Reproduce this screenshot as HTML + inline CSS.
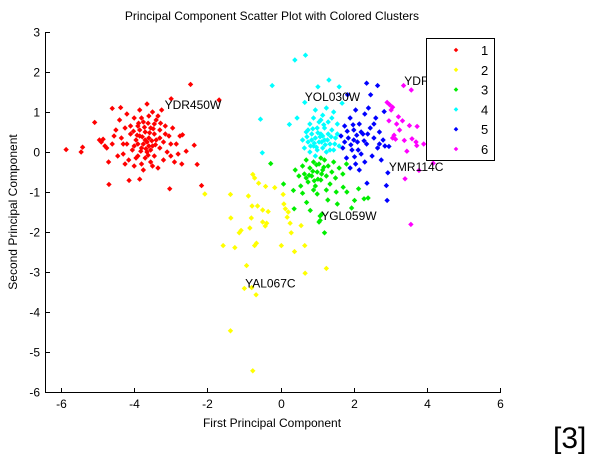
<!DOCTYPE html>
<html><head><meta charset="utf-8"><style>
body{margin:0;background:#fff;width:602px;height:462px;overflow:hidden}
svg text{font-family:"Liberation Sans",sans-serif}
</style></head><body>
<svg id="chart" width="602" height="462" xmlns="http://www.w3.org/2000/svg">
<text x="272" y="20" font-size="12" text-anchor="middle">Principal Component Scatter Plot with Colored Clusters</text>
<g id="axes"></g>
<g id="marks"></g>
<g id="labels"></g>
<text x="272" y="427" font-size="12" text-anchor="middle">First Principal Component</text>
<text transform="translate(17,212) rotate(-90)" font-size="12" text-anchor="middle">Second Principal Component</text>
<g id="legend"></g>
<text x="553" y="448" font-size="30">[3]</text>
</svg>
<script>
const xTicks=[-6,-4,-2,0,2,4,6];
const yTicks=[3,2,1,0,-1,-2,-3,-4,-5,-6];
const clusterNames=["1","2","3","4","5","6"];
const clusterColors=["#ff0000","#ffff00","#00ee00","#00ffff","#0000ff","#ff00ff"];
const c1=[[-5.86,0.06],[-5.41,0.12],[-5.45,0.0],[-5.08,0.74],[-4.69,-0.81],[-4.6,1.09],[-4.37,1.11],[-4.14,-0.71],[-3.85,-0.68],[-3.03,-0.92],[-2.46,1.69],[-2.36,0.17],[-2.28,-0.31],[-2.16,-0.84],[-1.68,1.3],[-2.99,1.33],[-2.68,0.43],[-2.58,0.02],[-4.9,0.25],[-4.95,0.3],[-4.8,0.15],[-4.85,0.32],[-4.7,-0.25],[-4.6,0.2],[-4.5,0.55],[-4.45,-0.1],[-4.4,0.8],[-4.35,0.35],[-4.3,-0.05],[-4.25,0.6],[-4.2,0.95],[-4.2,0.2],[-4.15,-0.2],[-4.1,0.45],[-4.05,0.05],[-4.0,0.85],[-4.0,-0.35],[-3.95,0.3],[-3.9,0.65],[-3.9,-0.1],[-3.85,1.05],[-3.85,0.4],[-3.8,0.1],[-3.8,-0.3],[-3.75,0.75],[-3.75,0.2],[-3.7,0.5],[-3.7,-0.15],[-3.65,1.2],[-3.65,0.0],[-3.6,0.35],[-3.6,0.9],[-3.55,-0.25],[-3.55,0.6],[-3.5,0.15],[-3.5,1.0],[-3.45,0.45],[-3.45,-0.1],[-3.4,0.3],[-3.4,0.8],[-3.35,-0.4],[-3.3,0.1],[-3.3,0.55],[-3.25,1.05],[-3.2,0.25],[-3.2,-0.2],[-3.15,0.65],[-3.1,0.0],[-3.05,0.4],[-3.0,-0.1],[-2.95,0.6],[-2.9,-0.25],[-2.85,0.2],[-2.8,-0.05],[-2.75,0.4],[-2.7,-0.3],[-4.75,0.1],[-4.55,0.4],[-4.0,0.15],[-3.7,0.3],[-3.85,0.55],[-3.95,-0.15],[-3.6,0.15],[-3.45,0.7],[-3.75,-0.45],[-4.25,-0.3],[-3.3,0.35],[-3.55,0.05],[-3.65,0.25],[-3.9,0.2],[-4.1,0.65],[-3.35,0.9],[-3.15,0.45],[-3.8,0.85],[-4.3,0.2],[-3.5,-0.35],[-3.0,0.2],[-3.72,0.62],[-3.58,0.48],[-3.68,0.08],[-3.52,0.28],[-3.78,0.38],[-3.62,-0.08],[-3.42,0.18],[-3.88,0.72],[-3.48,0.58],[-3.82,0.02],[-4.02,0.52],[-3.28,0.72],[-3.62,0.72],[-3.92,0.42]];
const c2=[[-2.07,-1.05],[-1.37,-1.06],[-1.36,-1.65],[-1.57,-2.34],[-1.25,-2.39],[-1.13,-2.02],[-1.08,-1.96],[-0.76,-0.56],[-0.71,-0.65],[-0.6,-0.78],[-0.41,-0.86],[-0.16,-0.89],[-0.88,-1.1],[-0.78,-1.35],[-0.8,-1.65],[-0.84,-1.9],[-0.71,-2.34],[-0.66,-2.28],[-0.63,-1.35],[-0.49,-1.45],[-0.34,-1.49],[-0.49,-1.75],[-0.42,-1.85],[-0.38,-1.78],[-0.93,-2.84],[-0.99,-3.41],[-0.79,-3.39],[-0.67,-3.57],[-1.37,-4.47],[-0.76,-5.47],[0.07,-1.06],[0.09,-1.3],[0.21,-1.5],[0.18,-1.63],[0.26,-1.78],[0.29,-2.02],[0.02,-2.34],[0.38,-2.49],[0.56,-1.84],[0.66,-2.34],[0.67,-3.03],[1.25,-2.91],[0.13,-1.42]];
const c3=[[-0.27,-0.29],[0.08,-0.8],[0.35,-0.96],[0.37,-1.42],[0.6,-1.03],[0.71,-1.26],[0.81,-1.46],[1.08,-1.71],[1.2,-2.02],[1.29,-1.2],[1.55,-1.3],[1.71,-0.88],[1.81,-1.0],[1.94,-1.4],[2.02,-1.21],[2.13,-0.92],[2.28,-1.17],[2.39,-1.15],[1.52,-1.0],[1.13,-1.55],[0.4,-0.45],[0.5,-0.6],[0.6,-0.35],[0.65,-0.55],[0.7,-0.2],[0.75,-0.75],[0.8,-0.4],[0.85,-0.6],[0.9,-0.25],[0.95,-0.85],[1.0,-0.5],[1.05,-0.3],[1.1,-0.7],[1.15,-0.45],[1.2,-0.2],[1.25,-0.6],[1.3,-0.35],[1.35,-0.8],[1.4,-0.5],[1.45,-0.25],[1.5,-0.65],[1.6,-0.4],[1.7,-0.55],[1.8,-0.3],[0.55,-0.85],[1.0,-1.05],[0.9,-0.95],[1.25,-0.95],[0.7,-0.65],[1.1,-0.15],[0.88,-0.48],[1.02,-0.68],[1.18,-0.38],[0.78,-0.58],[0.98,-0.32],[1.12,-0.55],[0.92,-0.72],[1.08,-1.6],[1.05,-1.75]];
const c4=[[0.68,2.42],[0.39,2.3],[-0.23,1.66],[-0.55,0.82],[-0.5,-0.02],[0.24,0.69],[0.45,0.85],[1.02,1.63],[1.32,1.8],[0.66,1.24],[1.6,1.63],[1.68,1.22],[0.6,0.3],[0.65,0.1],[0.7,0.5],[0.75,0.25],[0.8,0.7],[0.8,0.0],[0.85,0.45],[0.9,0.15],[0.9,0.85],[0.95,0.35],[1.0,0.6],[1.0,0.05],[1.05,0.25],[1.1,0.8],[1.1,0.45],[1.15,0.1],[1.2,0.6],[1.2,0.3],[1.25,0.0],[1.3,0.75],[1.3,0.45],[1.35,0.2],[1.4,0.55],[1.45,0.05],[1.5,0.35],[1.55,0.7],[1.6,0.15],[0.95,1.05],[1.25,1.1],[1.45,1.0],[0.85,0.3],[1.15,0.4],[1.05,0.75],[0.75,0.55],[1.35,0.05],[0.95,-0.1],[0.92,0.22],[1.08,0.38],[1.22,0.18],[1.02,0.48],[0.88,0.58],[1.18,0.68],[1.28,0.3],[0.98,0.12],[1.12,0.25],[0.82,0.15],[1.38,0.38],[1.48,0.2],[0.72,0.38],[1.15,0.92],[1.4,0.85],[1.55,0.45]];
const c5=[[2.35,1.72],[2.65,1.66],[2.46,1.43],[1.83,1.43],[2.83,1.01],[2.96,0.14],[2.93,-0.52],[2.89,-0.84],[2.91,-1.21],[2.36,-0.78],[1.65,0.4],[1.7,0.1],[1.75,0.65],[1.8,-0.15],[1.85,0.35],[1.9,0.85],[1.95,0.05],[2.0,0.55],[2.05,1.05],[2.05,-0.3],[2.1,0.25],[2.15,0.7],[2.2,-0.05],[2.25,0.45],[2.3,0.95],[2.3,-0.25],[2.35,0.2],[2.45,0.6],[2.5,-0.1],[2.55,0.35],[2.6,0.85],[2.65,0.1],[2.7,0.5],[2.75,-0.2],[2.8,0.3],[1.9,-0.4],[2.15,-0.45],[2.4,1.1],[2.0,0.3],[2.2,0.5],[1.75,0.25],[1.92,0.18],[2.08,0.42],[1.98,0.68],[2.12,0.05],[1.82,0.52],[2.28,0.28],[2.38,0.45],[2.02,-0.12],[2.55,0.7],[2.7,0.2],[2.85,0.15]];
const c6=[[3.36,1.66],[3.57,1.55],[2.91,1.24],[2.98,1.18],[3.06,1.12],[3.22,0.88],[3.33,0.78],[2.96,0.78],[3.17,0.7],[3.52,0.66],[3.73,0.64],[3.06,0.35],[3.14,0.32],[3.38,0.29],[3.59,0.33],[3.7,0.25],[3.91,0.2],[3.45,0.02],[3.72,0.16],[3.78,-0.46],[4.17,-0.28],[3.4,-0.67],[3.56,-1.81],[3.02,1.05],[3.1,0.42],[3.25,0.55]];
const clusters=[c1,c2,c3,c4,c5,c6];
const pointLabels=["YDR450W","YOL030W","YDR","YMR114C","YGL059W","YAL067C"];
const labelX=[-3.17,0.66,3.38,2.96,1.11,-0.97];
const labelY=[1.08,1.27,1.68,-0.48,-1.7,-3.39];

const NS="http://www.w3.org/2000/svg";
const X0=61,XS=36.6,Y0=32,YS=40;
const sx=v=>X0+(v+6)*XS;
const sy=v=>Y0+(3-v)*YS;
function mk(tag,attrs,parent){const e=document.createElementNS(NS,tag);for(const k in attrs)e.setAttribute(k,attrs[k]);parent.appendChild(e);return e;}
const axes=document.getElementById('axes');
let l=mk('line',{x1:45.5,y1:32,x2:45.5,y2:392.5,stroke:'#000','stroke-width':1},axes);


l=mk('line',{x1:45,y1:392.5,x2:501,y2:392.5,stroke:'#000','stroke-width':1},axes);


xTicks.forEach(t=>{
  const x=Math.round(sx(t))+0.5;
  mk('line',{x1:x,y1:392,x2:x,y2:388,stroke:'#000'},axes);
  const tx=mk('text',{x:x,y:408,'font-size':12,'text-anchor':'middle'},axes);
  tx.textContent=t;
  
  
});
yTicks.forEach(t=>{
  const y=Math.round(sy(t))+0.5;
  mk('line',{x1:46,y1:y,x2:50,y2:y,stroke:'#000'},axes);
  const tx=mk('text',{x:40,y:y+4,'font-size':12,'text-anchor':'end'},axes);
  tx.textContent=t;
  
  
});
const marks=document.getElementById('marks');
const R=2.7;
clusters.forEach((pts,ci)=>{
  pts.forEach(p=>{
    const cx=sx(p[0]),cy=sy(p[1]);
    const m=mk('path',{d:`M${cx-R},${cy}L${cx},${cy-R}L${cx+R},${cy}L${cx},${cy+R}Z`,fill:clusterColors[ci]},marks);
    
    
  });
});
const labels=document.getElementById('labels');
pointLabels.forEach((s,i)=>{
  const t=mk('text',{x:sx(labelX[i]),y:sy(labelY[i]),'font-size':12},labels);
  t.textContent=s;
  
  
});
const lg=document.getElementById('legend');
const box=mk('rect',{x:426.5,y:38.5,width:68,height:122,fill:'#fff',stroke:'#000'},lg);


clusterNames.forEach((n,i)=>{
  const y=50+i*19.8;
  const m=mk('path',{d:`M453.7,${y}L456,${y-2.3}L458.3,${y}L456,${y+2.3}Z`,fill:clusterColors[i]},lg);
  
  
  const t=mk('text',{x:481,y:y+5,'font-size':13},lg);
  t.textContent=n;
  
  
});
</script>
</body></html>
